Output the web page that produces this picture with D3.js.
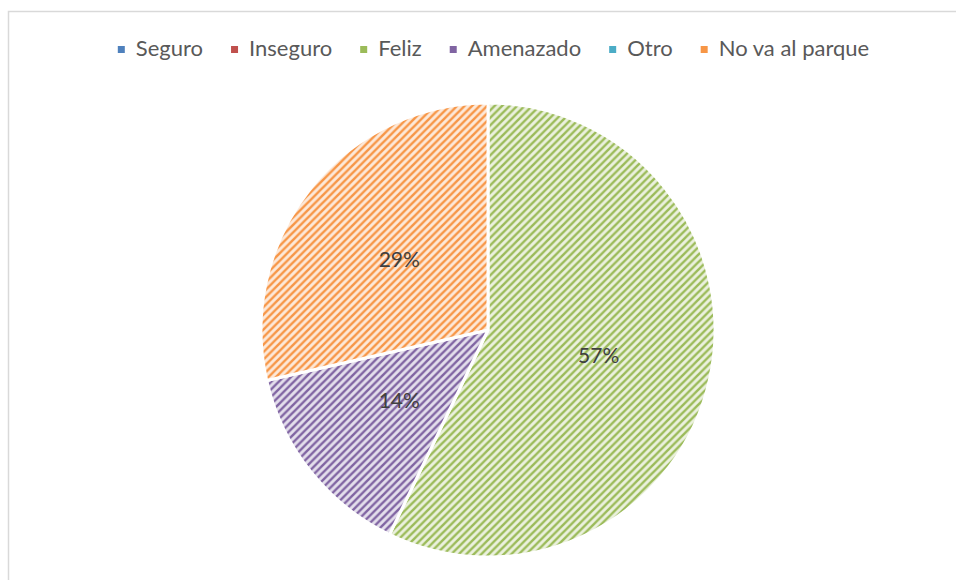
<!DOCTYPE html>
<html><head><meta charset="utf-8">
<script src="https://cdn.jsdelivr.net/npm/d3@7"></script>
<style>body{margin:0;background:#fff}svg{display:block}</style>
</head><body>
<script>
const categories = ["Seguro","Inseguro","Feliz","Amenazado","Otro","No va al parque"];
const values = [0,0,4,1,0,2];
const labels = ["0%","0%","57%","14%","0%","29%"];
const colors = ["#4f81bd","#c0504d","#9bbb59","#8064a2","#4bacc6","#f79646"];
const lightColors = ["#dce6f2","#f2dcdb","#ebf1de","#e4dfec","#daeef3","#fde9d9"];

const W=956,H=580;
const svg=d3.select("body").append("svg").attr("width",W).attr("height",H);
const defs=svg.append("defs");
const P=7.5;
colors.forEach((c,i)=>{
  const p=defs.append("pattern").attr("id","pat"+i).attr("patternUnits","userSpaceOnUse")
    .attr("width",P).attr("height",P);
  p.append("rect").attr("width",P).attr("height",P).attr("fill",lightColors[i]);
  p.append("path").attr("d",`M-1,1 L1,-1 M0,${P} L${P},0 M${P-1},${P+1} L${P+1},${P-1}`)
    .attr("stroke",c).attr("stroke-width",2.4).attr("fill","none");
});
// frame
svg.append("rect").attr("x",8.5).attr("y",11.5).attr("width",1000).attr("height",1000)
  .attr("fill","none").attr("stroke","#d9d9d9").attr("stroke-width",1.5);

const cx=488, cy=330, R=227;
const pie=d3.pie().sort(null).value(d=>d.v);
const data=categories.map((c,i)=>({c,v:values[i],i,l:labels[i]}));
const arcs=pie(data);
const arc=d3.arc().innerRadius(0).outerRadius(R);
const g=svg.append("g").attr("transform",`translate(${cx},${cy})`);
g.selectAll("path.s").data(arcs.filter(d=>d.data.v>0)).join("path")
  .attr("d",arc).attr("fill",d=>`url(#pat${d.data.i})`)
  .attr("stroke","#fff").attr("stroke-width",3).attr("stroke-linejoin","round");
const lab=d3.arc().innerRadius(R*0.5).outerRadius(R*0.5);
g.selectAll("text").data(arcs.filter(d=>d.data.v>0)).join("text")
  .attr("transform",d=>`translate(${lab.centroid(d)})`)
  .attr("text-anchor","middle").attr("dy","0.35em")
  .attr("font-family","Lato, 'Open Sans', sans-serif").attr("font-size",21)
  .attr("fill","#404040").text(d=>d.data.l);

// legend
const lg=svg.append("g");
const items=lg.selectAll("g").data(data).join("g");
items.append("rect").attr("width",7).attr("height",7).attr("y",-10)
  .attr("fill",d=>colors[d.i]);
items.append("text").attr("x",18).attr("y",0)
  .attr("font-family","Lato, 'Open Sans', sans-serif").attr("font-size",22)
  .attr("fill","#595959").text(d=>d.c);
let widths=[];
items.each(function(){widths.push(18+d3.select(this).select("text").node().getComputedTextLength());});
const gap=28;
const total=d3.sum(widths)+gap*(widths.length-1);
let x=493.5-total/2;
items.each(function(d,i){d3.select(this).attr("transform",`translate(${x},${56})`);x+=widths[i]+gap;});
</script>
</body></html>
